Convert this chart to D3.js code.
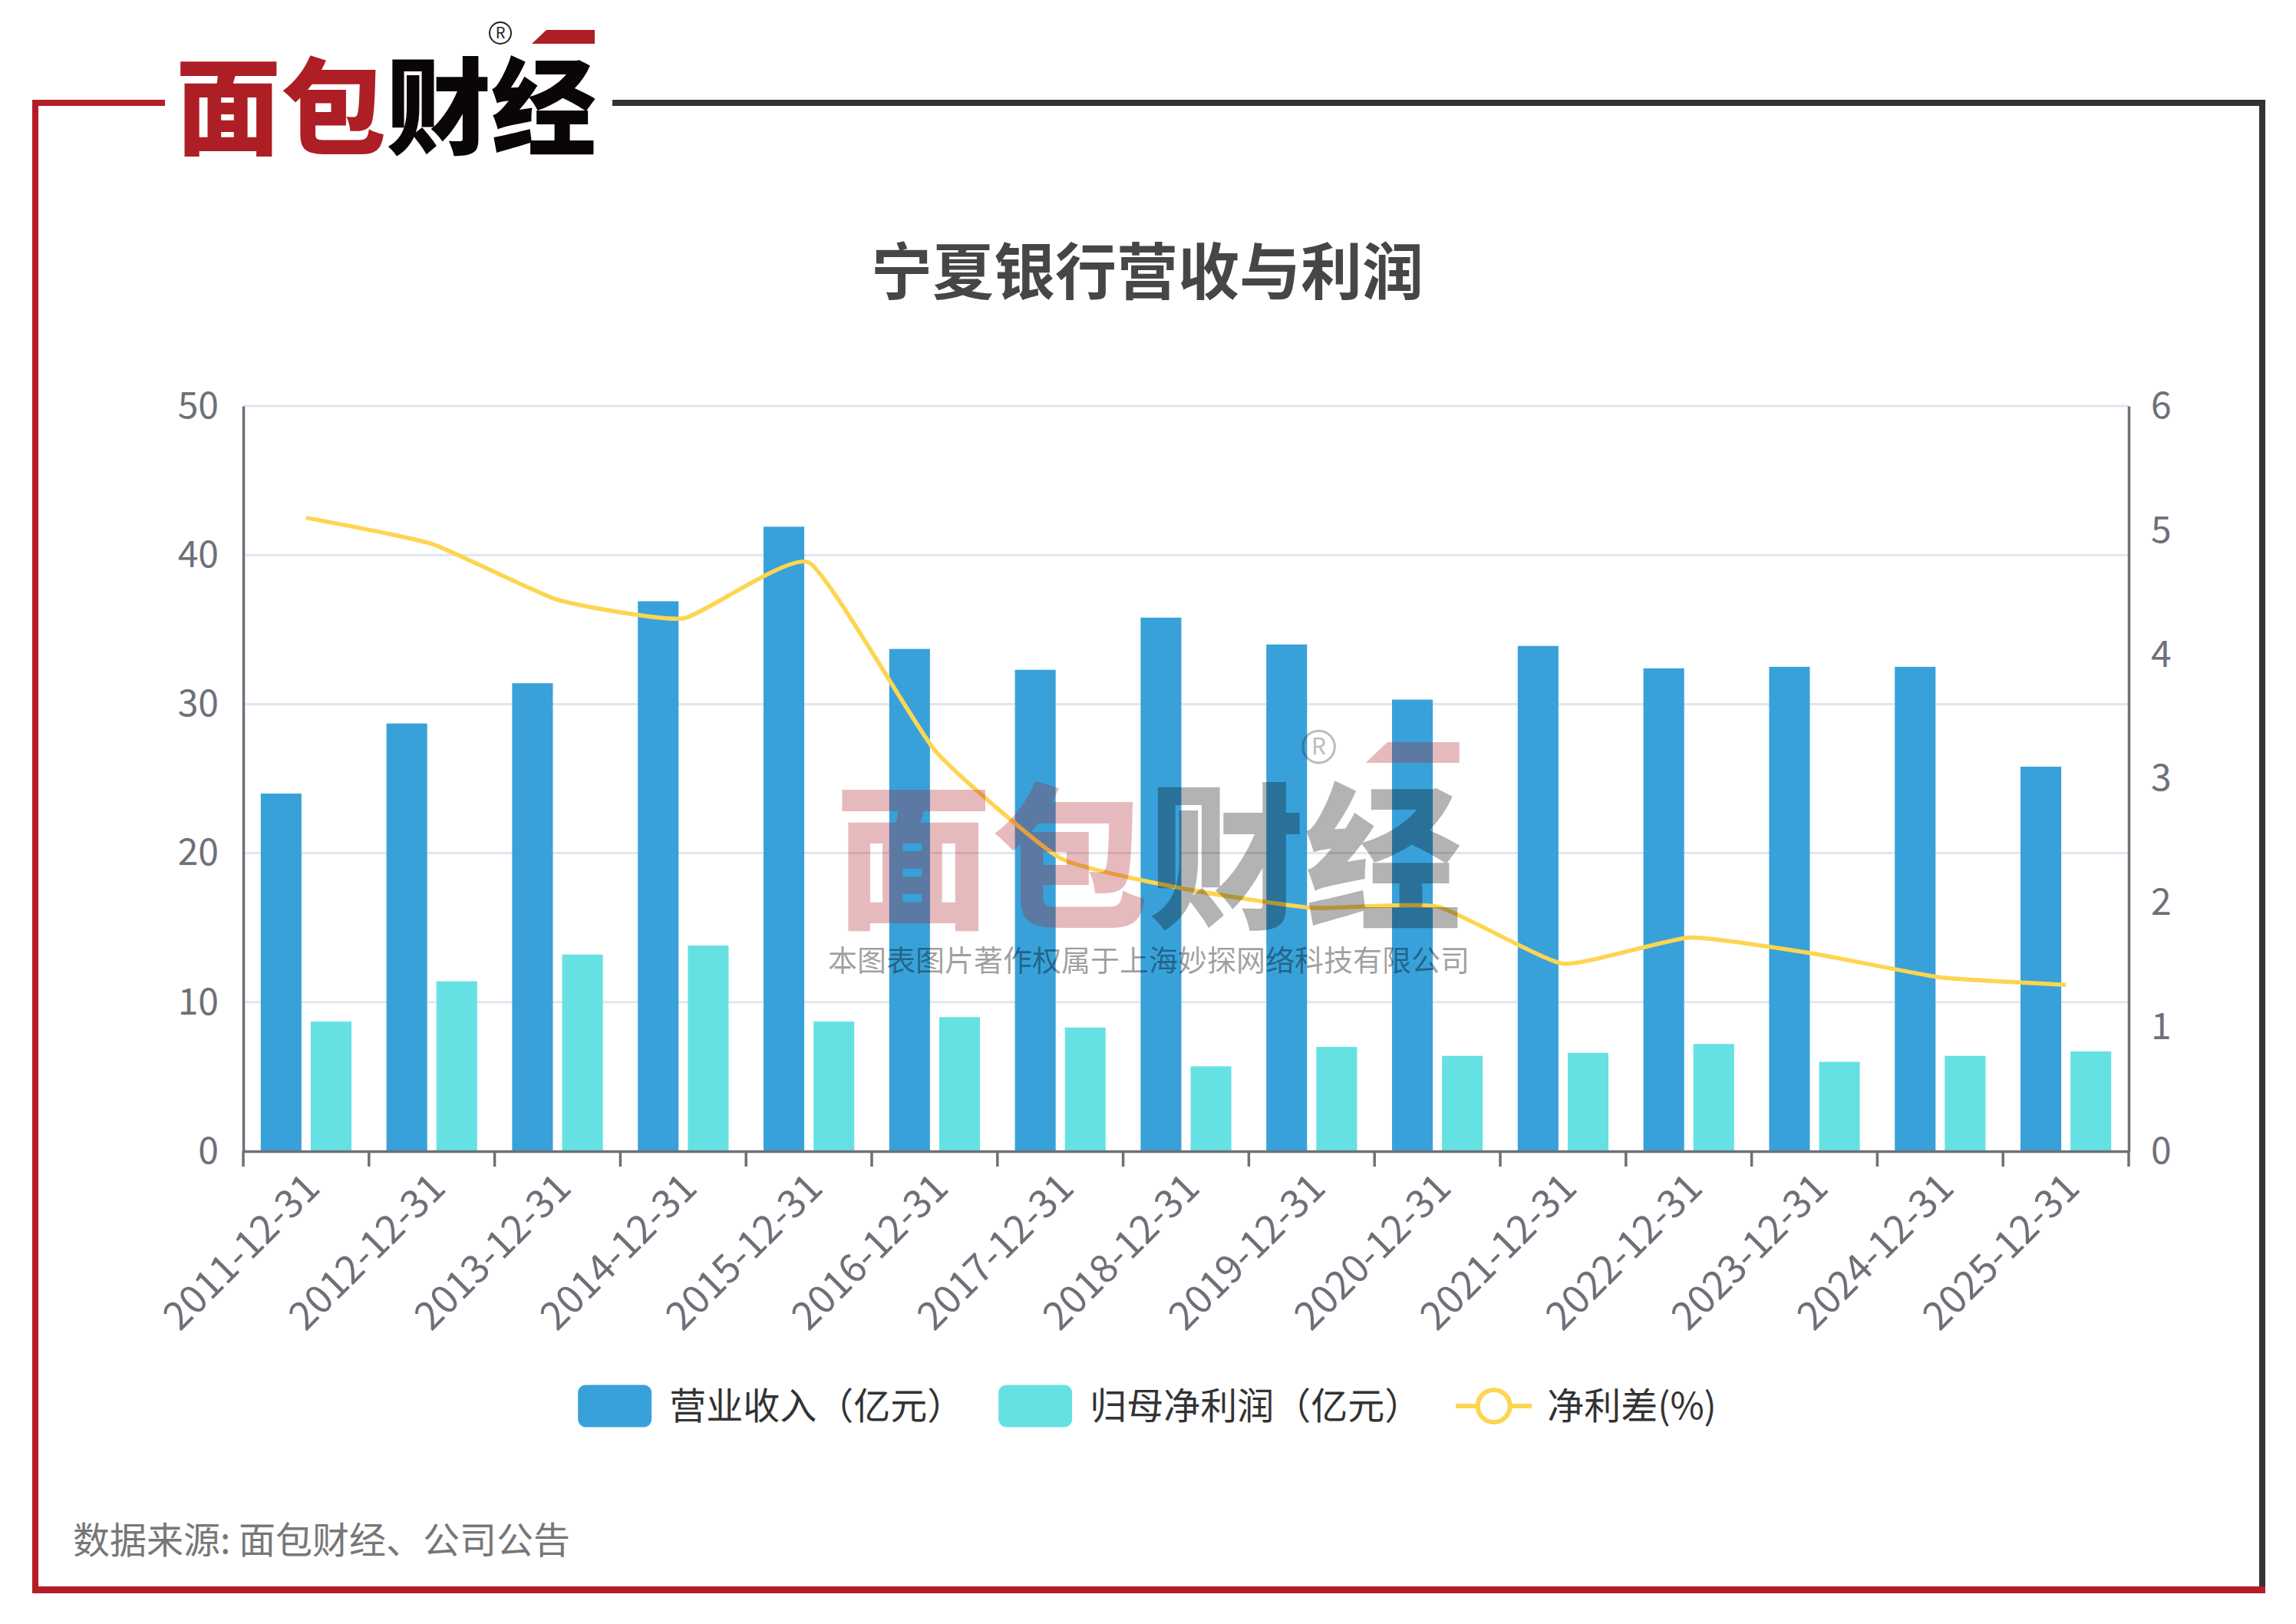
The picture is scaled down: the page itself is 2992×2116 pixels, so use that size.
<!DOCTYPE html>
<html>
<head>
<meta charset="utf-8">
<script src="https://cdn.jsdelivr.net/npm/d3@7"></script>
<style>
  html, body { margin: 0; padding: 0; background: #fff; }
  svg { display: block; }
  text { font-family: "Noto Sans CJK SC", "Noto Sans", sans-serif; }
</style>
</head>
<body>
<svg id="chart" width="2992" height="2116"></svg>
<script>
// 宁夏银行营收与利润 — 数据
const dates = ['2011-12-31', '2012-12-31', '2013-12-31', '2014-12-31', '2015-12-31',
  '2016-12-31', '2017-12-31', '2018-12-31', '2019-12-31', '2020-12-31',
  '2021-12-31', '2022-12-31', '2023-12-31', '2024-12-31', '2025-12-31'];
const revenue = [24.0, 28.7, 31.4, 36.9, 41.9, 33.7, 32.3, 35.8, 34.0, 30.3, 33.9, 32.4, 32.5, 32.5, 25.8];
const netProfit = [8.7, 11.4, 13.2, 13.8, 8.7, 9.0, 8.3, 5.7, 7.0, 6.4, 6.6, 7.2, 6.0, 6.4, 6.7];
const netInterestSpread = [5.10, 4.89, 4.44, 4.29, 4.74, 3.23, 2.36, 2.11, 1.96, 1.97, 1.51, 1.72, 1.59, 1.40, 1.34];
const leftTicks = [0, 10, 20, 30, 40, 50];
const rightTicks = [0, 1, 2, 3, 4, 5, 6];
const seriesNames = ['营业收入（亿元）', '归母净利润（亿元）', '净利差(%)'];
const colors = { rev: '#38a1da', np: '#66e1e3', line: '#fdd550' };

const svg = d3.select('#chart');
const axisColor = '#6e7079';

// ---- 外框 ----
const frame = svg.append('g');
frame.append('path').attr('d', 'M215,134H46V2071').attr('fill', 'none')
  .attr('stroke', '#b41e27').attr('stroke-width', 8);
frame.append('path').attr('d', 'M798,134H2948V2071').attr('fill', 'none')
  .attr('stroke', '#333').attr('stroke-width', 8);
frame.append('path').attr('d', 'M42,2071.5H2952').attr('fill', 'none')
  .attr('stroke', '#b41e27').attr('stroke-width', 9);

// ---- logo ----
function drawLogo(g) {
  const t = g.append('text').attr('x', 229).attr('y', 191)
    .attr('font-size', 137).attr('font-weight', 900)
    .attr('textLength', 548).attr('lengthAdjust', 'spacingAndGlyphs');
  t.append('tspan').attr('fill', '#ad1f25').text('面包');
  t.append('tspan').attr('fill', '#0a0606').text('财经');
  g.append('circle').attr('cx', 652).attr('cy', 43).attr('r', 14)
    .attr('fill', 'none').attr('stroke', '#222').attr('stroke-width', 2);
  g.append('text').attr('x', 652).attr('y', 43).attr('dy', '0.35em')
    .attr('text-anchor', 'middle').attr('font-size', 20).attr('fill', '#222').text('R');
  g.append('polygon').attr('points', '712,39 775,39 775,57 693,57').attr('fill', '#ad1f25');
}
drawLogo(svg.append('g'));

// ---- 标题 ----
svg.append('text').attr('x', 1495).attr('y', 355).attr('dy', '0.35em')
  .attr('text-anchor', 'middle').attr('font-size', 80).attr('font-weight', 700)
  .attr('fill', '#464646').text('宁夏银行营收与利润');

// ---- 比例尺 ----
const plot = { left: 317, right: 2774, top: 529, bottom: 1500 };
const x = d3.scaleBand().domain(dates).range([plot.left, plot.right]);
const x1 = d3.scaleBand().domain(['rev', 'np']).range([0, x.bandwidth()])
  .paddingInner(0.185).paddingOuter(0.35);
const yL = d3.scaleLinear().domain([0, 50]).range([plot.bottom, plot.top]);
const yR = d3.scaleLinear().domain([0, 6]).range([plot.bottom, plot.top]);

// 网格线
svg.append('g').selectAll('line').data(leftTicks.slice(1)).join('line')
  .attr('x1', plot.left).attr('x2', plot.right)
  .attr('y1', d => yL(d)).attr('y2', d => yL(d))
  .attr('stroke', '#e0e6f1').attr('stroke-width', 3);

// 柱子
const rows = dates.map((d, i) => ({ date: d, rev: revenue[i], np: netProfit[i] }));
const bars = svg.append('g');
['rev', 'np'].forEach(key => {
  bars.selectAll('.bar-' + key).data(rows).join('rect')
    .attr('class', 'bar-' + key)
    .attr('x', d => x(d.date) + x1(key))
    .attr('width', x1.bandwidth())
    .attr('y', d => yL(d[key]))
    .attr('height', d => yL(0) - yL(d[key]))
    .attr('fill', colors[key]);
});

// 折线
const line = d3.line()
  .x((d, i) => x(dates[i]) + x.bandwidth() / 2)
  .y(d => yR(d))
  .curve(d3.curveCardinal.tension(0.55));
svg.append('path').datum(netInterestSpread)
  .attr('d', line).attr('fill', 'none')
  .attr('stroke', colors.line).attr('stroke-width', 5.5)
  .attr('stroke-linejoin', 'round');

// ---- 坐标轴 ----
const xAxis = svg.append('g').attr('transform', `translate(0,${plot.bottom})`)
  .call(d3.axisBottom(x).tickSize(0).tickPadding(0));
xAxis.select('.domain').attr('stroke', axisColor).attr('stroke-width', 3.5);
xAxis.selectAll('.tick text')
  .attr('y', 0).attr('dy', '0.35em')
  .attr('transform', 'translate(8,38) rotate(-45)')
  .attr('text-anchor', 'end')
  .attr('font-size', 51).attr('fill', axisColor)
  .style('font-family', '"Noto Sans CJK SC", sans-serif');
// 刻度在类目边界
xAxis.append('g').selectAll('line').data(dates.map(d => x(d)).concat([plot.right])).join('line')
  .attr('x1', d => d).attr('x2', d => d).attr('y1', 0).attr('y2', 20)
  .attr('stroke', axisColor).attr('stroke-width', 3.5);

const yAxisL = svg.append('g').attr('transform', `translate(${plot.left},0)`)
  .call(d3.axisLeft(yL).tickValues(leftTicks).tickSize(0).tickPadding(32));
yAxisL.select('.domain').attr('stroke', axisColor).attr('stroke-width', 3.5);
yAxisL.selectAll('.tick text').attr('font-size', 48).attr('fill', axisColor)
  .style('font-family', '"Noto Sans CJK SC", sans-serif');

const yAxisR = svg.append('g').attr('transform', `translate(${plot.right},0)`)
  .call(d3.axisRight(yR).tickValues(rightTicks).tickFormat(d3.format('d')).tickSize(0).tickPadding(29));
yAxisR.select('.domain').attr('stroke', axisColor).attr('stroke-width', 3.5);
yAxisR.selectAll('.tick text').attr('font-size', 48).attr('fill', axisColor)
  .style('font-family', '"Noto Sans CJK SC", sans-serif');

// ---- 水印 ----
const wm = svg.append('g');
const wmLogo = wm.append('g').attr('transform', 'translate(747,909) scale(1.49)').attr('opacity', 0.3);
drawLogo(wmLogo);
wm.append('text').attr('x', 1497).attr('y', 1252).attr('dy', '0.35em')
  .attr('text-anchor', 'middle').attr('font-size', 38)
  .attr('fill', '#000').attr('fill-opacity', 0.38)
  .text('本图表图片著作权属于上海妙探网络科技有限公司');

// ---- 图例 ----
const legendY = 1832;
const legend = svg.append('g');
const iconW = 96, iconH = 55, iconGap = 23, itemGap = 45;
const items = seriesNames.map((name, i) => {
  const g = legend.append('g');
  if (i < 2) {
    g.append('rect').attr('x', 0).attr('y', legendY - iconH / 2)
      .attr('width', iconW).attr('height', iconH).attr('rx', 10)
      .attr('fill', i === 0 ? colors.rev : colors.np);
  } else {
    g.append('line').attr('x1', 0).attr('x2', iconW + 3).attr('y1', legendY).attr('y2', legendY)
      .attr('stroke', colors.line).attr('stroke-width', 6);
    g.append('circle').attr('cx', (iconW + 3) / 2).attr('cy', legendY).attr('r', 21)
      .attr('fill', '#fff').attr('stroke', colors.line).attr('stroke-width', 6);
  }
  const t = g.append('text').attr('x', iconW + iconGap).attr('y', legendY).attr('dy', '0.35em')
    .attr('font-size', 48).attr('fill', '#333').text(name);
  return { g, w: iconW + iconGap + t.node().getComputedTextLength() };
});
const total = d3.sum(items, d => d.w) + itemGap * (items.length - 1);
let cursor = 1495 - total / 2;
items.forEach(it => { it.g.attr('transform', `translate(${cursor},0)`); cursor += it.w + itemGap; });

// ---- 数据来源 ----
svg.append('text').attr('x', 95).attr('y', 2007).attr('dy', '0.35em')
  .attr('font-size', 48).attr('fill', '#777')
  .text('数据来源: 面包财经、公司公告');
</script>
</body>
</html>
